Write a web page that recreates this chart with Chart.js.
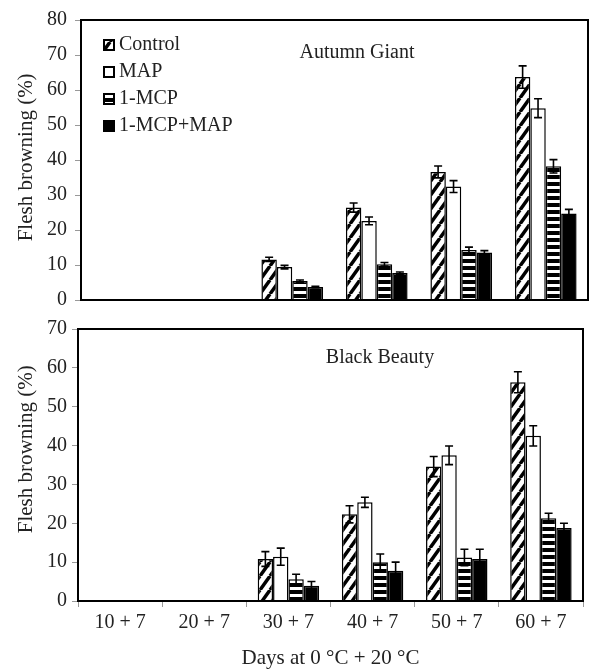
<!DOCTYPE html>
<html>
<head>
<meta charset="utf-8">
<script src="https://cdn.jsdelivr.net/npm/chart.js@4.4.1/dist/chart.umd.min.js"></script>
<style>
  html, body { margin: 0; padding: 0; background: #fff; }
  #wrap { position: relative; width: 593px; height: 672px; }
  #c1 { position: absolute; left: 0; top: 0; }
  #c2 { position: absolute; left: 0; top: 310px; }
</style>
</head>
<body>
<div id="wrap">
  <canvas id="c1" width="593" height="320"></canvas>
  <canvas id="c2" width="593" height="362"></canvas>
</div>
<script>
var days = ['10 + 7', '20 + 7', '30 + 7', '40 + 7', '50 + 7', '60 + 7'];
var treatments = ['Control', 'MAP', '1-MCP', '1-MCP+MAP'];

// Autumn Giant
var agControl = [0, 0, 11.6, 26.4, 36.6, 63.7];
var agMap     = [0, 0, 9.4, 22.6, 32.4, 54.8];
var agMcp     = [0, 0, 5.4, 10.2, 14.3, 38.2];
var agMcpMap  = [0, 0, 3.7, 7.7, 13.6, 24.7];
var agControlErr = [0, 0, 0.6, 1.3, 1.7, 3.2];
var agMapErr     = [0, 0, 0.5, 1.1, 1.7, 2.7];
var agMcpErr     = [0, 0, 0.3, 0.5, 0.8, 1.9];
var agMcpMapErr  = [0, 0, 0.2, 0.3, 0.5, 1.2];

// Black Beauty
var bbControl = [0, 0, 10.8, 22.3, 34.6, 56.3];
var bbMap     = [0, 0, 11.4, 25.4, 37.5, 42.5];
var bbMcp     = [0, 0, 5.6, 10.0, 11.2, 21.3];
var bbMcpMap  = [0, 0, 3.9, 7.8, 10.8, 18.8];
var bbControlErr = [0, 0, 1.9, 2.2, 2.6, 2.7];
var bbMapErr     = [0, 0, 2.2, 1.3, 2.4, 2.6];
var bbMcpErr     = [0, 0, 1.3, 2.1, 2.1, 1.3];
var bbMcpMapErr  = [0, 0, 1.1, 2.2, 2.5, 1.2];

Chart.defaults.font.family = '"Liberation Serif", "Times New Roman", serif';
Chart.defaults.color = '#222';

function diagPattern(ctx) {
  var c = document.createElement('canvas');
  c.width = 10; c.height = 14;
  var g = c.getContext('2d');
  g.fillStyle = '#fff';
  g.fillRect(0, 0, 10, 14);
  g.strokeStyle = '#000';
  g.lineWidth = 3.5;
  for (var k = -1; k <= 1; k++) {
    g.beginPath();
    g.moveTo(k * 10, 14);
    g.lineTo(k * 10 + 10, 0);
    g.stroke();
  }
  return ctx.createPattern(c, 'repeat');
}

function stripePattern(ctx) {
  var c = document.createElement('canvas');
  c.width = 4; c.height = 7;
  var g = c.getContext('2d');
  g.fillStyle = '#fff';
  g.fillRect(0, 0, 4, 7);
  g.fillStyle = '#000';
  g.fillRect(0, 0, 4, 4);
  return ctx.createPattern(c, 'repeat');
}

// error bars drawn on top of the bars
var errorBars = {
  id: 'errorBars',
  afterDatasetsDraw: function(chart) {
    var ctx = chart.ctx, y = chart.scales.y;
    ctx.save();
    ctx.strokeStyle = '#000';
    ctx.lineWidth = 1.6;
    chart.data.datasets.forEach(function(ds, i) {
      var meta = chart.getDatasetMeta(i);
      meta.data.forEach(function(bar, j) {
        var v = ds.data[j], e = ds.errors[j];
        if (!v || !e) return;
        var t = y.getPixelForValue(v + e), b = y.getPixelForValue(v - e), x = bar.x;
        ctx.beginPath();
        ctx.moveTo(x, t); ctx.lineTo(x, b);
        ctx.moveTo(x - 4, t); ctx.lineTo(x + 4, t);
        ctx.moveTo(x - 4, b); ctx.lineTo(x + 4, b);
        ctx.stroke();
      });
    });
    ctx.restore();
  }
};

// box round the plot, panel name and legend inside it
var panelDeco = {
  id: 'panelDeco',
  afterDraw: function(chart, args, opts) {
    var ctx = chart.ctx, a = chart.chartArea;
    ctx.save();
    ctx.strokeStyle = '#000';
    ctx.lineWidth = 2;
    ctx.strokeRect(a.left, a.top, a.right - a.left, a.bottom - a.top);

    ctx.fillStyle = '#222';
    ctx.font = '20px "Liberation Serif", serif';
    ctx.textAlign = 'center';
    ctx.textBaseline = 'middle';
    ctx.fillText(opts.text, a.left + opts.x, a.top + opts.y);

    if (opts.legend) {
      ctx.textAlign = 'left';
      chart.data.datasets.forEach(function(ds, i) {
        var bx = a.left + 23, by = a.top + 20 + i * 27;
        ctx.fillStyle = ds.backgroundColor;
        ctx.fillRect(bx, by, 10, 10);
        ctx.lineWidth = 2;
        ctx.strokeRect(bx, by, 10, 10);
        ctx.fillStyle = '#222';
        ctx.fillText(ds.label, bx + 15, by + 5);
      });
    }
    ctx.restore();
  }
};

function makePanel(canvas, series, errs, opt) {
  var ctx = canvas.getContext('2d');
  var fills = [diagPattern(ctx), '#fff', stripePattern(ctx), '#000'];
  var datasets = series.map(function(s, i) {
    return {
      label: treatments[i],
      data: s,
      errors: errs[i],
      backgroundColor: fills[i],
      borderColor: '#000',
      borderWidth: 1.5,
      categoryPercentage: 0.73,
      barPercentage: 1.0
    };
  });
  return new Chart(ctx, {
    type: 'bar',
    data: { labels: days, datasets: datasets },
    plugins: [errorBars, panelDeco],
    options: {
      responsive: false,
      animation: false,
      layout: { padding: { left: 0, right: opt.right, top: 19, bottom: 0 } },
      plugins: {
        legend: { display: false },
        tooltip: { enabled: false },
        panelDeco: { text: opt.name, x: opt.nameX, y: opt.nameY, legend: opt.legend }
      },
      scales: {
        x: {
          grid: { drawOnChartArea: false, tickLength: 6, color: '#999', display: opt.xLabels },
          border: { color: '#000', width: 2 },
          ticks: { display: opt.xLabels, font: { size: 20 }, padding: 4 },
          title: {
            display: opt.xLabels,
            text: 'Days at 0 \u00b0C + 20 \u00b0C',
            font: { size: 21 },
            padding: { top: 0, bottom: 1 }
          },
          afterFit: function(s) { s.height = opt.xHeight; }
        },
        y: {
          min: 0,
          max: opt.max,
          ticks: { stepSize: 10, font: { size: 20 }, padding: opt.tickPad },
          grid: { drawOnChartArea: false, tickLength: 6, color: '#999' },
          border: { color: '#000', width: 2 },
          title: {
            display: true,
            // leading spaces lift the rotated text a little, as in the original
            text: opt.titlePad + 'Flesh browning (%)',
            font: { size: 21 },
            padding: { top: 14, bottom: 0 }
          },
          afterFit: function(s) { s.width = opt.yWidth; }
        }
      }
    }
  });
}

makePanel(document.getElementById('c1'),
  [agControl, agMap, agMcp, agMcpMap],
  [agControlErr, agMapErr, agMcpErr, agMcpMapErr],
  { name: 'Autumn Giant', nameX: 276, nameY: 33, legend: true, max: 80,
    right: 5, yWidth: 81, xHeight: 15, xLabels: false, tickPad: 8,
    titlePad: '\u00a0' });

makePanel(document.getElementById('c2'),
  [bbControl, bbMap, bbMcp, bbMcpMap],
  [bbControlErr, bbMapErr, bbMcpErr, bbMcpMapErr],
  { name: 'Black Beauty', nameX: 302, nameY: 29, legend: false, max: 70,
    right: 10, yWidth: 78, xHeight: 71, xLabels: true, tickPad: 5,
    titlePad: '\u00a0\u00a0\u00a0\u00a0\u00a0\u00a0' });
</script>
</body>
</html>
